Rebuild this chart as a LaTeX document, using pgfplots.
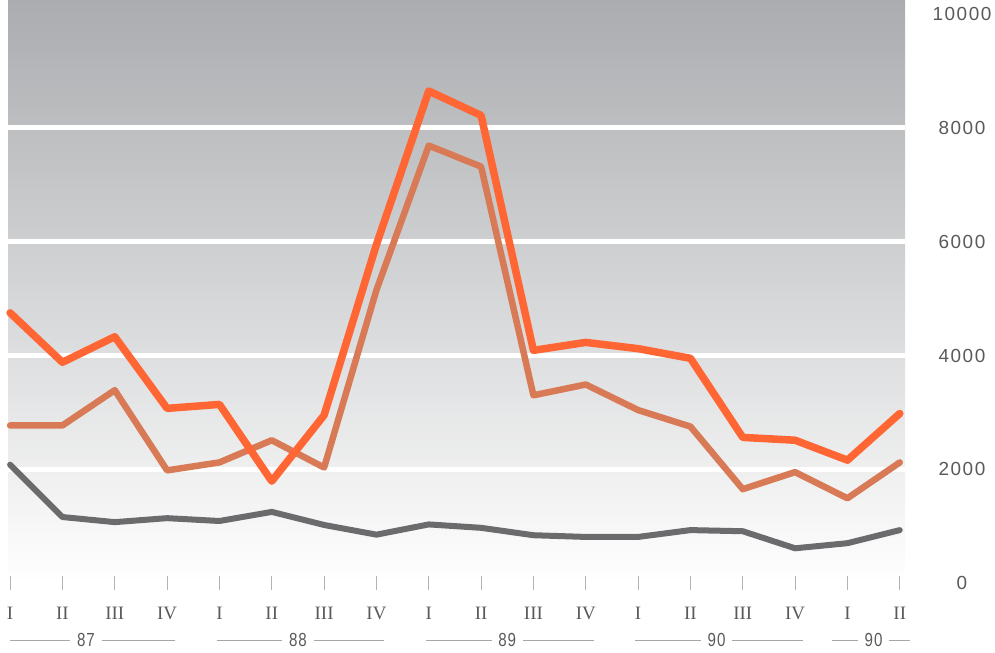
\documentclass[border=0pt]{standalone}
\usepackage{fontspec}
\setmainfont{Liberation Serif}
\newfontfamily\ysans[LetterSpace=6]{Liberation Sans}
\newfontfamily\ynum[LetterSpace=8]{Liberation Sans}
\usepackage{pgfplots}
\pgfplotsset{compat=1.18}
\definecolor{bright}{HTML}{FF6633}
\definecolor{brown}{HTML}{D97A57}
\definecolor{dgray}{HTML}{6B6B6D}
\definecolor{lbl}{HTML}{5A5A5A}
\definecolor{bgtop}{HTML}{AAACAF}
\definecolor{bgmid}{HTML}{C6C8CB}
\newcommand{\yr}[4]{%
  \draw[gray!70, line width=0.7bp] (axis cs:#2,-1000) -- (axis cs:#1-0.3,-1000);
  \draw[gray!70, line width=0.7bp] (axis cs:#1+0.3,-1000) -- (axis cs:#3,-1000);
  \node[text=lbl, inner sep=0pt] at (axis cs:#1,-1000) {\scalebox{0.8}[1]{\ysans\fontsize{19}{19}\selectfont #4}};%
}
\begin{document}
\begin{tikzpicture}
\path[use as bounding box] (0,0) rectangle (995bp,653bp);
\begin{axis}[
  at={(8bp,70bp)}, anchor=south west,
  scale only axis, width=897bp, height=583bp,
  xmin=-0.04, xmax=17.1, ymin=0, ymax=10250,
  clip=false,
  axis x line*=bottom, axis y line*=right,
  axis line style={draw=none},
  axis background/.style={shade, top color=bgtop, middle color=bgmid, bottom color=white},
  xtick={0,...,17},
  xticklabels={I,II,III,IV,I,II,III,IV,I,II,III,IV,I,II,III,IV,I,II},
  xticklabel style={anchor=base, yshift=-30bp, font=\fontsize{19}{19}\selectfont, text=lbl},
  xtick style={draw=gray!60, line width=0.7bp},
  tick align=center, major tick length=14bp,
  ytick={2000,4000,6000,8000},
  extra y ticks={0,10000},
  extra y tick style={grid=none},
  ytick style={draw=none},
  scaled y ticks=false,
  ymajorgrids, grid style={white, line width=5bp},
  yticklabel pos=right,
  yticklabel={\ynum\fontsize{19}{19}\selectfont\pgfmathprintnumber[fixed,1000 sep={},assume math mode=true]{\tick}},
  yticklabel style={anchor=center, xshift=50bp, text=lbl},
  every axis plot/.append style={line join=round, line cap=round},
]
\addplot[dgray, line width=6bp] coordinates {
(0,2080) (1,1160) (2,1070) (3,1140) (4,1090) (5,1250) (6,1020) (7,850) (8,1030)
(9,970) (10,840) (11,810) (12,810) (13,930) (14,910) (15,610) (16,700) (17,930)};
\addplot[brown, line width=6.5bp] coordinates {
(0,2770) (1,2770) (2,3390) (3,1980) (4,2120) (5,2510) (6,2030) (7,5150) (8,7690)
(9,7320) (10,3300) (11,3490) (12,3040) (13,2750) (14,1650) (15,1950) (16,1490) (17,2120)};
\addplot[bright, line width=7.5bp] coordinates {
(0,4750) (1,3880) (2,4330) (3,3070) (4,3140) (5,1790) (6,2950) (7,5950) (8,8650)
(9,8220) (10,4090) (11,4230) (12,4120) (13,3950) (14,2560) (15,2510) (16,2160) (17,2980)};
\yr{1.45}{0}{3.15}{87}
\yr{5.5}{3.95}{7.15}{88}
\yr{9.5}{7.95}{11.15}{89}
\yr{13.5}{11.95}{15.15}{90}
\yr{16.5}{15.7}{17.2}{90}
\end{axis}
\end{tikzpicture}
\end{document}
